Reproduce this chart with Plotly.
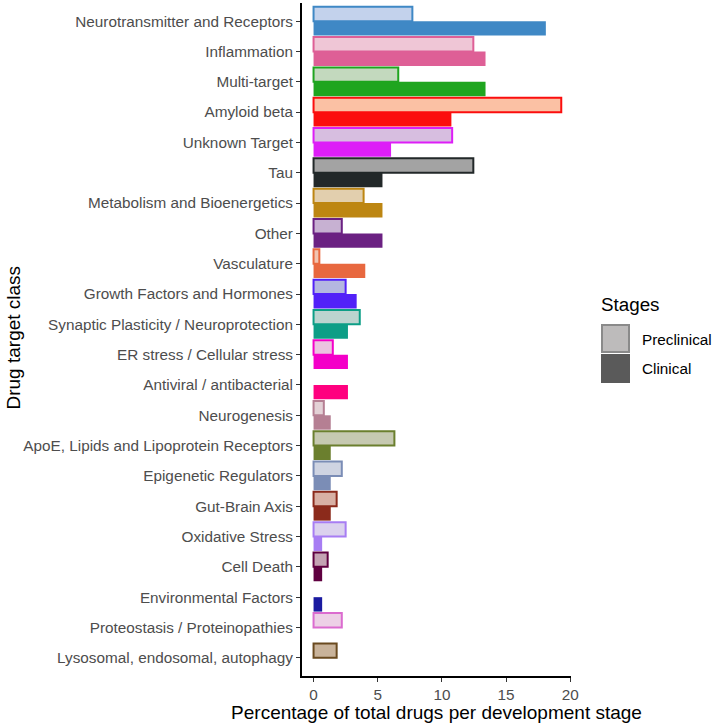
import plotly.graph_objects as go

categories = [
    "Neurotransmitter and Receptors", "Inflammation", "Multi-target", "Amyloid beta",
    "Unknown Target", "Tau", "Metabolism and Bioenergetics", "Other", "Vasculature",
    "Growth Factors and Hormones", "Synaptic Plasticity / Neuroprotection",
    "ER stress / Cellular stress", "Antiviral / antibacterial", "Neurogenesis",
    "ApoE, Lipids and Lipoprotein Receptors", "Epigenetic Regulators", "Gut-Brain Axis",
    "Oxidative Stress", "Cell Death", "Environmental Factors",
    "Proteostasis / Proteinopathies", "Lysosomal, endosomal, autophagy",
]

preclinical = [7.7, 12.45, 6.6, 19.3, 10.8, 12.45, 3.9, 2.2, 0.45, 2.5, 3.6, 1.5, None,
               0.8, 6.3, 2.2, 1.8, 2.5, 1.1, None, 2.2, 1.8]
clinical = [18.1, 13.4, 13.4, 10.74, 6.04, 5.37, 5.37, 5.37, 4.03, 3.36, 2.68, 2.68, 2.68,
            1.34, 1.34, 1.34, 1.34, 0.67, 0.67, 0.67, None, None]

clin_colors = ["#3F88C5", "#DE5F96", "#1FA51F", "#FB0E0E", "#DD1EF7", "#222829", "#BD8612",
               "#6B2182", "#E8683F", "#5221F8", "#0D9E86", "#F400C8", "#FF007F", "#B57F93",
               "#6B7F2E", "#7B8DB6", "#8B2A1B", "#A77DF3", "#5F0040", "#1A1AA0", "#DB6BCF",
               "#6A4A1F"]
pre_fill = ["#C3D2EC", "#EFC6D6", "#C3D9BE", "#FBC1A4", "#D7BEE0", "#A3A3A3", "#E2CFAE",
            "#C7B1D2", "#F1C4B1", "#B4B7E0", "#BCD4CF", "#EBC3E0", "#F5C0D8", "#E3D1D6",
            "#C6C9B1", "#CFD4E2", "#D8B0A4", "#DBD2EE", "#C4A3B3", "#B8B8E0", "#EDD0E6",
            "#C9B39A"]

stage_names = ["Preclinical", "Clinical"]
stage_key_fill = ["#BDBBBB", "#5A5A5A"]
stage_key_line = ["#8A8A8A", "#5A5A5A"]

FONT = "Liberation Sans, Arial, Helvetica, sans-serif"

W, H = 712, 723
L, R, T, B = 302, 141, 3, 47
PW, PH = W - L - R, H - T - B


def px(xp):
    return (xp - L) / PW


def py(yp):
    return 1 - (yp - T) / PH


fig = go.Figure()
fig.add_trace(go.Bar(
    y=categories, x=preclinical, orientation="h", name=stage_names[0],
    marker=dict(color=pre_fill, line=dict(color=clin_colors, width=2)),
    showlegend=False,
))
fig.add_trace(go.Bar(
    y=categories, x=clinical, orientation="h", name=stage_names[1],
    marker=dict(color=clin_colors, line=dict(width=0)),
    showlegend=False,
))

# legend drawn as keys + labels (matching ggplot's large keys)
shapes = []
annotations = []
key_tops = [325, 355]
for i, name in enumerate(stage_names):
    y0 = key_tops[i]
    shapes.append(dict(
        type="rect", xref="paper", yref="paper",
        x0=px(602), x1=px(629), y0=py(y0), y1=py(y0 + 27),
        fillcolor=stage_key_fill[i], line=dict(color=stage_key_line[i], width=2),
    ))
    annotations.append(dict(
        text=name, xref="paper", yref="paper", x=px(640), y=py(y0 + 14),
        xanchor="left", yanchor="middle", showarrow=False,
        font=dict(size=15.3, color="#000000"),
    ))
annotations.append(dict(
    text="Stages", xref="paper", yref="paper", x=px(599), y=py(304),
    xanchor="left", yanchor="middle", showarrow=False,
    font=dict(size=18.8, color="#000000"),
))
annotations.append(dict(
    text="Drug target class", textangle=-90,
    xref="paper", yref="paper", x=px(0), y=py(338),
    xanchor="left", yanchor="middle", showarrow=False,
    font=dict(size=19, color="#000000"),
))

fig.update_layout(
    width=W, height=H,
    margin=dict(l=L, r=R, t=T, b=B),
    paper_bgcolor="white", plot_bgcolor="white",
    barmode="group", bargap=0.05, bargroupgap=0,
    font=dict(family=FONT, color="#000000"),
    showlegend=False,
    xaxis=dict(
        range=[-0.9, 20.06], tickvals=[0, 5, 10, 15, 20],
        ticks="outside", ticklen=4, tickwidth=1.2, tickcolor="#333333",
        tickfont=dict(size=15.3, color="#4D4D4D"),
        showline=True, linecolor="#000000", linewidth=2,
        showgrid=False, zeroline=False,
        title=dict(text="Percentage of total drugs per development stage",
                   font=dict(size=19, color="#000000"), standoff=0),
    ),
    yaxis=dict(
        categoryorder="array", categoryarray=categories,
        range=[len(categories) - 0.4, -0.6],
        ticks="outside", ticklen=4, tickwidth=1.2, tickcolor="#333333",
        tickfont=dict(size=15.3, color="#4D4D4D"),
        showline=True, linecolor="#000000", linewidth=2,
        showgrid=False, zeroline=False,
    ),
    shapes=shapes,
    annotations=annotations,
)

fig.write_html("out.html", config={"displayModeBar": False},
               post_script="document.body.style.margin='0';")
